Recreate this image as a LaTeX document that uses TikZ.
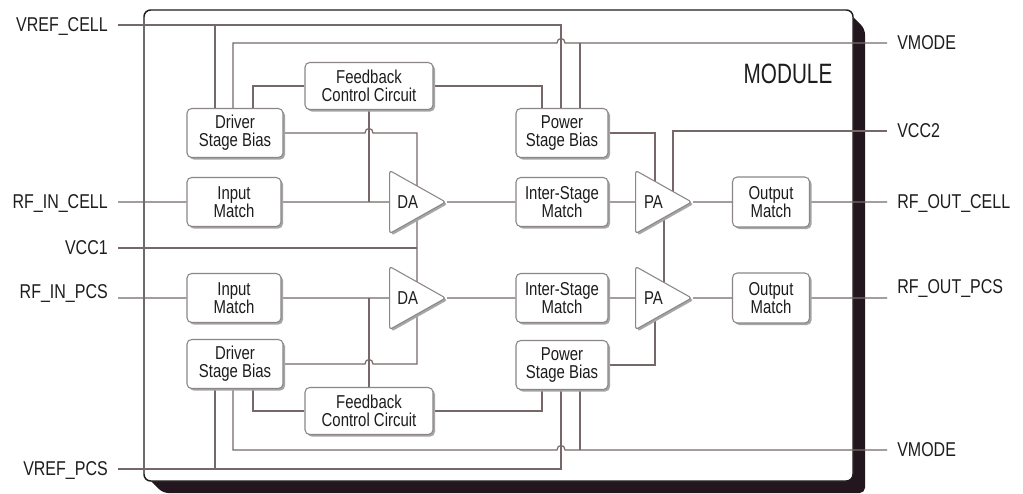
\documentclass[tikz,border=0pt]{standalone}
\usepackage{fontspec}
\setmainfont{Liberation Sans}[FakeStretch=0.8]
\newfontfamily\modulefont{Liberation Sans}[FakeStretch=0.74]
\usepackage{tikz}
\usetikzlibrary{shapes.geometric,shadows}
\definecolor{wirecol}{RGB}{118,104,104}
\definecolor{boxline}{RGB}{140,134,134}
\definecolor{frameshade}{RGB}{35,22,30}
\definecolor{ink}{RGB}{30,28,28}
\pgfdeclarelayer{frame}
\pgfdeclarelayer{wires}
\pgfsetlayers{frame,wires,main}

\begin{document}
\begin{tikzpicture}[x=0.75pt,y=-0.75pt,
  wire/.style={draw=wirecol,line width=0.9pt},
  blk/.style={draw=boxline,fill=white,line width=0.8pt,rounded corners=3.5pt,align=center,inner sep=0pt,text=ink,
    font=\fontsize{14}{13.7}\selectfont,drop shadow={shadow xshift=1.5pt,shadow yshift=-1.5pt,fill=black!35,opacity=1}},
  amp/.style={isosceles triangle,isosceles triangle stretches,shape border rotate=0,minimum width=47.25pt,minimum height=42pt,
    draw=boxline,fill=white,line width=0.8pt,rounded corners=2pt,inner sep=0pt,text=ink,anchor=apex,
    font=\fontsize{14}{13.7}\selectfont,drop shadow={shadow xshift=1.5pt,shadow yshift=-1.5pt,fill=black!35,opacity=1}},
  pinl/.style={anchor=east,inner xsep=7.5pt,inner ysep=0pt,text depth=0pt,text=ink,font=\fontsize{15}{18}\selectfont},
  pinr/.style={pinl,anchor=west}]
\useasboundingbox (0,0) rectangle (1023,493);

%Shape: Module frame
\begin{pgfonlayer}{frame}
\fill[frameshade,rounded corners=4pt] (846,10) -- (865,29) -- (865,493) -- (163,493) -- (144,474) -- cycle;
\draw[ink,line width=1.1pt,fill=white,rounded corners=5pt] (144,10) rectangle (853,481);
\end{pgfonlayer}

% Text Node
\node[font=\modulefont\fontsize{21}{24}\selectfont,text=ink,inner sep=0pt,text depth=0pt] (module) at (788,74) {MODULE};

%Pins
\node[pinl] (vrefCell) at (118,25) {VREF\_CELL};
\node[pinl] (rfInCell) at (118,202) {RF\_IN\_CELL};
\node[pinl] (vccOne) at (118,248) {VCC1};
\node[pinl,yshift=4.5pt] (rfInPcs) at (118,298) {RF\_IN\_PCS};
\node[pinl] (vrefPcs) at (118,469) {VREF\_PCS};
\node[pinr] (vmodeA) at (887,43) {VMODE};
\node[pinr] (vccTwo) at (887,131) {VCC2};
\node[pinr] (rfOutCell) at (887,202) {RF\_OUT\_CELL};
\node[pinr,yshift=8.25pt] (rfOutPcs) at (887,298) {RF\_OUT\_PCS};
\node[pinr] (vmodeB) at (887,450) {VMODE};

%Blocks: cell chain
\node[blk,minimum width=72pt,minimum height=36.75pt] (dsbA) at (235,133) {Driver\\Stage Bias};
\node[blk,minimum width=96pt,minimum height=35.25pt] (fccA) at (369,86) {Feedback\\Control Circuit};
\node[blk,minimum width=70.5pt,minimum height=36.75pt] (imA) at (234,202) {Input\\Match};
\node[amp] (daA) at (447,202) {DA};
\node[blk,minimum width=69pt,minimum height=36.75pt] (ismA) at (562,202) {Inter-Stage\\Match};
\node[blk,minimum width=69pt,minimum height=36.75pt] (psbA) at (562,133) {Power\\Stage Bias};
\node[amp] (paA) at (693,202) {PA};
\node[blk,minimum width=57.75pt,minimum height=37.5pt] (omA) at (771,202) {Output\\Match};

%Blocks: pcs chain
\node[blk,minimum width=70.5pt,minimum height=36.75pt] (imB) at (234,298) {Input\\Match};
\node[amp] (daB) at (447,298) {DA};
\node[blk,minimum width=72pt,minimum height=36.75pt] (dsbB) at (235,364) {Driver\\Stage Bias};
\node[blk,minimum width=96pt,minimum height=35.25pt] (fccB) at (369,411) {Feedback\\Control Circuit};
\node[blk,minimum width=69pt,minimum height=36.75pt] (ismB) at (562,298) {Inter-Stage\\Match};
\node[blk,minimum width=69pt,minimum height=36.75pt] (psbB) at (562,365) {Power\\Stage Bias};
\node[amp] (paB) at (693,298) {PA};
\node[blk,minimum width=57.75pt,minimum height=37.5pt] (omB) at (771,298) {Output\\Match};

\coordinate (vbus) at (417,248);
\coordinate (hopA) at ([xshift=-0.75pt]psbA.north |- vmodeA.west);
\coordinate (hopB) at (dsbA.east -| fccA.south);
\coordinate (hopC) at (dsbB.east -| fccB.north);
\coordinate (hopD) at ([xshift=-0.75pt]psbB.south |- vmodeB.west);

\begin{pgfonlayer}{wires}
%Straight Lines: cell side
\draw[wire] (vrefCell.east) -| ([xshift=-0.75pt]psbA.north);
\draw[wire] ([xshift=-15pt]dsbA.north) -- ([xshift=-15pt]dsbA.north |- vrefCell.east);
\draw[wire] (vmodeA.west) -- ([xshift=3pt]hopA) .. controls +(0,-6) and +(0,-6) .. ([xshift=-3pt]hopA) -| ([xshift=-1.5pt]dsbA.north);
\draw[wire] ([xshift=13.5pt]psbA.north) -- ([xshift=13.5pt]psbA.north |- vmodeA.west);
\draw[wire] ([xshift=13.5pt]dsbA.north) |- (fccA.west);
\draw[wire] (fccA.east) -| ([xshift=-15pt]psbA.north);
\draw[wire] (fccA.south) -- (fccA.south |- rfInCell.east);
\draw[wire] (rfInCell.east) -- (imA.west) (imA.east) -- (daA.west) (daA.apex) -- (ismA.west)
  (ismA.east) -- (paA.west) (paA.apex) -- (omA.west) (omA.east) -- (rfOutCell.west);
\draw[wire] (psbA.east) -| ([xshift=15pt]paA.west);
\draw[wire] (vccTwo.west) -| ([xshift=28.5pt]paA.west);
\draw[wire] ([xshift=21.75pt]paA.west) -- ([xshift=21.75pt]paB.west);

%Straight Lines: driver bias and VCC1
\draw[wire] (dsbA.east) -- ([xshift=-3pt]hopB) .. controls +(0,-6) and +(0,-6) .. ([xshift=3pt]hopB) -- (dsbA.east -| vbus)
  -- (dsbB.east -| vbus) -- ([xshift=3pt]hopC) .. controls +(0,-6) and +(0,-6) .. ([xshift=-3pt]hopC) -- (dsbB.east);
\draw[wire] (vccOne.east) -- (vbus);

%Straight Lines: pcs side
\draw[wire] ([yshift=-4.5pt]rfInPcs.east) -- (imB.west) (imB.east) -- (daB.west) (daB.apex) -- (ismB.west)
  (ismB.east) -- (paB.west) (paB.apex) -- (omB.west) (omB.east) -- ([yshift=-8.25pt]rfOutPcs.west);
\draw[wire] (fccB.north) -- (fccB.north |- imB.east);
\draw[wire] ([xshift=13.5pt]dsbB.south) |- (fccB.west);
\draw[wire] (fccB.east) -| ([xshift=-15pt]psbB.south);
\draw[wire] (psbB.east) -| ([xshift=15pt]paB.west);
\draw[wire] (vrefPcs.east) -| ([xshift=-0.75pt]psbB.south);
\draw[wire] ([xshift=-15pt]dsbB.south) -- ([xshift=-15pt]dsbB.south |- vrefPcs.east);
\draw[wire] (vmodeB.west) -- ([xshift=3pt]hopD) .. controls +(0,-6) and +(0,-6) .. ([xshift=-3pt]hopD) -| ([xshift=-1.5pt]dsbB.south);
\draw[wire] ([xshift=13.5pt]psbB.south) -- ([xshift=13.5pt]psbB.south |- vmodeB.west);
\end{pgfonlayer}

\end{tikzpicture}
\end{document}
